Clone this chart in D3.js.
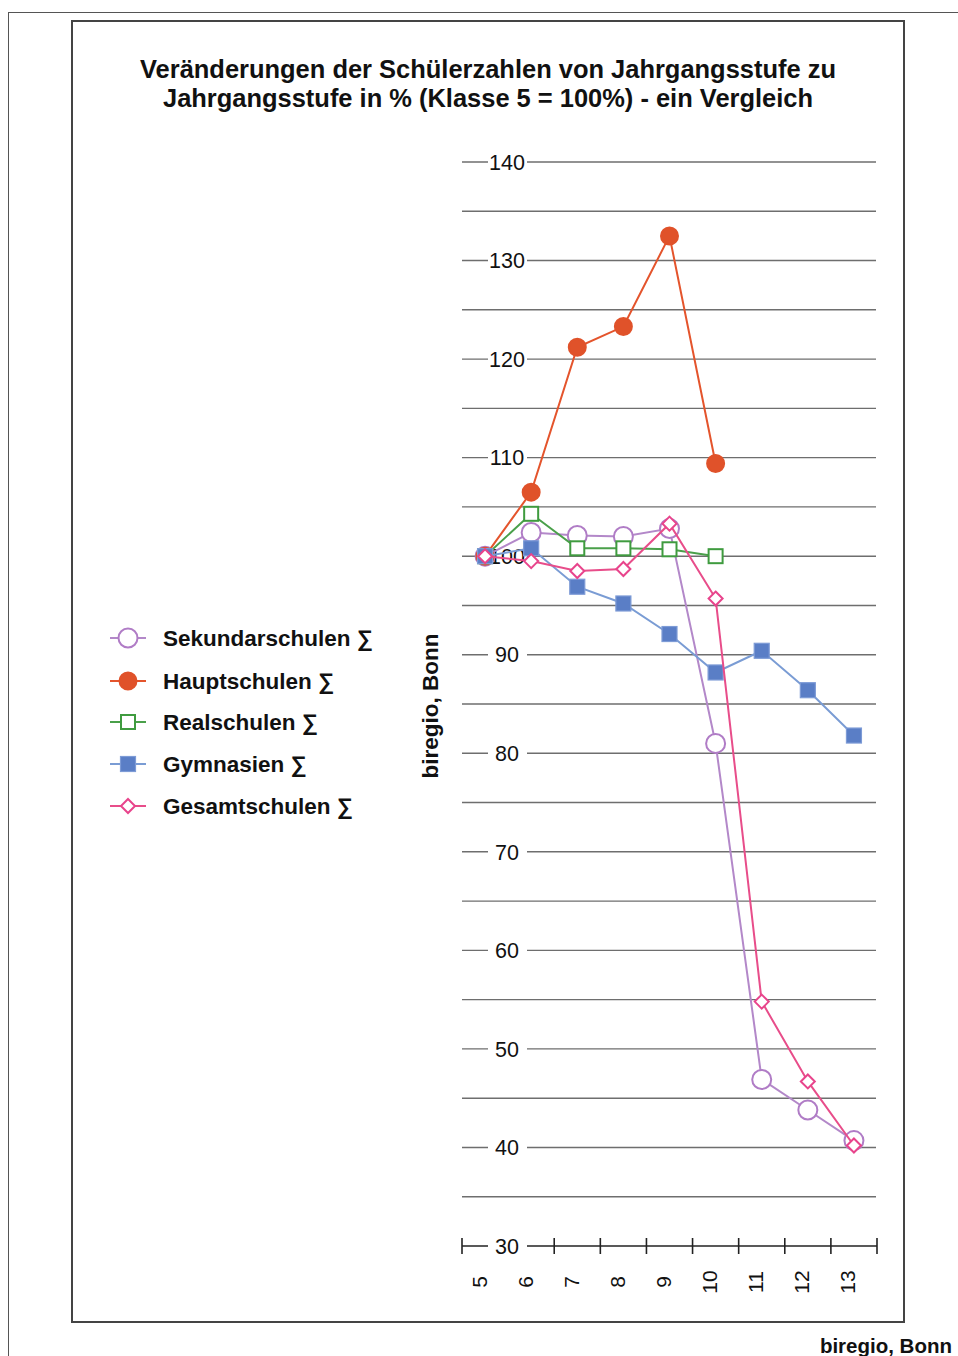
<!DOCTYPE html>
<html><head><meta charset="utf-8">
<script src="https://cdn.jsdelivr.net/npm/d3@7/dist/d3.min.js"></script>
<style>body{margin:0;background:#fff}svg{display:block}</style>
</head><body><svg id="c" width="958" height="1356"></svg>
<script>
const categories = ["5","6","7","8","9","10","11","12","13"];
const yTickLabels = [140,130,120,110,100,90,80,70,60,50,40,30];
const seriesNames = ["Sekundarschulen ∑","Hauptschulen ∑","Realschulen ∑","Gymnasien ∑","Gesamtschulen ∑"];
const sekundarschulen = [100,102.4,102.1,102.0,102.8,81.0,46.9,43.8,40.7];
const hauptschulen   = [100,106.5,121.2,123.3,132.5,109.4,null,null,null];
const realschulen    = [100,104.3,100.8,100.8,100.7,100.0,null,null,null];
const gymnasien      = [100,100.8,96.9,95.2,92.1,88.2,90.4,86.4,81.8];
const gesamtschulen  = [100,99.5,98.5,98.7,103.3,95.7,54.8,46.7,40.2];

const svg = d3.select("#c");
const FONT = "'Liberation Sans', Arial, sans-serif";

// frames
svg.append("rect").attr("x",8.5).attr("y",12.5).attr("width",1000).attr("height",1400)
  .attr("fill","none").attr("stroke","#555").attr("stroke-width",1);
svg.append("rect").attr("x",72).attr("y",21).attr("width",832).attr("height",1301)
  .attr("fill","none").attr("stroke","#444").attr("stroke-width",2);

// title
const title = svg.append("text").attr("text-anchor","middle").attr("font-family",FONT)
  .attr("font-weight","bold").attr("font-size",25).attr("fill","#111");
title.append("tspan").attr("x",488).attr("y",78).attr("textLength",696).attr("lengthAdjust","spacingAndGlyphs")
  .text("Veränderungen der Schülerzahlen von Jahrgangsstufe zu");
title.append("tspan").attr("x",488).attr("y",107).attr("textLength",650).attr("lengthAdjust","spacingAndGlyphs")
  .text("Jahrgangsstufe in % (Klasse 5 = 100%) - ein Vergleich");

const x = d3.scaleBand().domain(categories).range([462,877]).padding(0);
const y = d3.scaleLinear().domain([30,140]).range([1246,162]);

// gridlines every 5
const gridVals = d3.range(35,145,5);
svg.append("g").selectAll("line").data(gridVals).join("line")
  .attr("x1",462).attr("x2",876).attr("y1",d=>y(d)).attr("y2",d=>y(d))
  .attr("stroke","#6e6e6e").attr("stroke-width",1.4);

// x axis with boundary ticks
const xAxisG = svg.append("g");
xAxisG.append("line").attr("x1",462).attr("x2",877).attr("y1",y(30)).attr("y2",y(30))
  .attr("stroke","#222").attr("stroke-width",1.6);
const bounds = categories.map(c=>x(c)).concat([x(categories[categories.length-1])+x.bandwidth()]);
xAxisG.selectAll("line.t").data(bounds).join("line").attr("class","t")
  .attr("x1",d=>d).attr("x2",d=>d).attr("y1",y(30)-8).attr("y2",y(30)+8)
  .attr("stroke","#222").attr("stroke-width",1.6);
xAxisG.selectAll("text").data(categories).join("text")
  .attr("transform",d=>`translate(${x(d)+x.bandwidth()/2-4},1282) rotate(-90)`)
  .attr("text-anchor","middle").attr("dominant-baseline","middle")
  .attr("font-family",FONT).attr("font-size",21).attr("fill","#111").text(d=>d);

// y tick labels with white background
const yl = svg.append("g").selectAll("g").data(yTickLabels).join("g")
  .attr("transform",d=>`translate(507,${y(d)})`);
yl.append("rect").attr("x",-19).attr("y",-11).attr("width",39).attr("height",22).attr("fill","#fff");
yl.append("text").attr("text-anchor","middle").attr("dy","0.36em").attr("font-family",FONT)
  .attr("font-size",21.5).attr("fill","#111").text(d=>d);

// rotated label
svg.append("text").attr("transform","translate(438,706) rotate(-90)").attr("text-anchor","middle")
  .attr("font-family",FONT).attr("font-weight","bold").attr("font-size",22.5).attr("fill","#111")
  .text("biregio, Bonn");

// series
const series = [
  {name:seriesNames[0], values:sekundarschulen, line:"#b388c9", stroke:"#b07cc6", fill:"#fff", shape:"circle", size:9.5},
  {name:seriesNames[1], values:hauptschulen, line:"#e4542c", stroke:"#e0522a", fill:"#e0522a", shape:"circle", size:8.5},
  {name:seriesNames[2], values:realschulen, line:"#4aa04a", stroke:"#3f9b3f", fill:"#fff", shape:"square", size:14},
  {name:seriesNames[3], values:gymnasien, line:"#7a9cd4", stroke:"#7d9bd6", fill:"#5a7ec6", shape:"square", size:15},
  {name:seriesNames[4], values:gesamtschulen, line:"#e84d8a", stroke:"#e8448c", fill:"#fff", shape:"diamond", size:14}
];

function drawMarker(g, s, cx, cy){
  if(s.shape==="circle"){
    g.append("circle").attr("cx",cx).attr("cy",cy).attr("r",s.size)
      .attr("fill",s.fill).attr("stroke",s.stroke).attr("stroke-width",2);
  } else if(s.shape==="square"){
    g.append("rect").attr("x",cx-s.size/2).attr("y",cy-s.size/2).attr("width",s.size).attr("height",s.size)
      .attr("fill",s.fill).attr("stroke",s.stroke).attr("stroke-width",s.fill==="#fff"?2:1.2);
  } else {
    const h = s.size/2;
    g.append("path").attr("d",`M${cx},${cy-h}L${cx+h},${cy}L${cx},${cy+h}L${cx-h},${cy}Z`)
      .attr("fill",s.fill).attr("stroke",s.stroke).attr("stroke-width",2);
  }
}

const lineGen = d3.line().defined(d=>d.v!=null).x(d=>x(d.c)+x.bandwidth()/2).y(d=>y(d.v));
series.forEach(s=>{
  const pts = categories.map((c,i)=>({c, v:s.values[i]}));
  const g = svg.append("g");
  g.append("path").datum(pts).attr("d",lineGen).attr("fill","none")
    .attr("stroke",s.line).attr("stroke-width",2);
  pts.filter(p=>p.v!=null).forEach(p=>drawMarker(g,s,x(p.c)+x.bandwidth()/2,y(p.v)));
});

// legend
const legendY = [638,681,722,764,806];
series.forEach((s,i)=>{
  const g = svg.append("g");
  g.append("line").attr("x1",110).attr("x2",146).attr("y1",legendY[i]).attr("y2",legendY[i])
    .attr("stroke",s.line).attr("stroke-width",2);
  drawMarker(g,s,128,legendY[i]);
  g.append("text").attr("x",163).attr("y",legendY[i]).attr("dy","0.36em")
    .attr("font-family",FONT).attr("font-weight","bold").attr("font-size",22.5).attr("fill","#111")
    .text(s.name);
});

// footer
svg.append("text").attr("x",952).attr("y",1353).attr("text-anchor","end").attr("font-family",FONT).attr("font-weight","bold")
  .attr("font-size",20.5).attr("fill","#111").text("biregio, Bonn");
</script></body></html>
